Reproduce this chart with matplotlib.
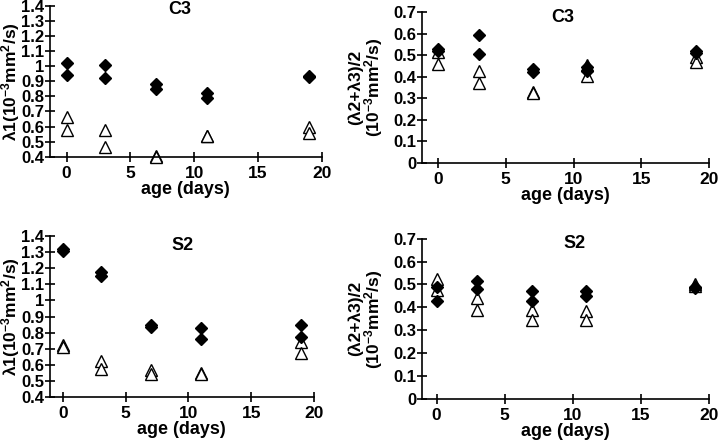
import numpy as np
import matplotlib
matplotlib.use("Agg")
import matplotlib.pyplot as plt

plt.rcParams['font.family'] = ['Liberation Sans', 'DejaVu Sans']
plt.rcParams['font.weight'] = 'bold'
plt.rcParams['mathtext.fontset'] = 'custom'
plt.rcParams['mathtext.rm'] = 'Liberation Sans:bold'
plt.rcParams['mathtext.bf'] = 'Liberation Sans:bold'
plt.rcParams['mathtext.default'] = 'bf'

# age (days) of each measurement, two animals per age
age = [0, 0, 3, 3, 7, 7, 11, 11, 19, 19]

# C3: lambda1
c3_l1_filled = [1.02, 0.94, 1.01, 0.92, 0.885, 0.85, 0.82, 0.79, 0.935, 0.925]
c3_l1_open = [0.665, 0.58, 0.575, 0.465, 0.405, 0.40, 0.54, 0.54, 0.595, 0.555]
# C3: (lambda2+lambda3)/2
c3_l23_filled = [0.53, 0.52, 0.595, 0.505, 0.435, 0.42, 0.445, 0.425, 0.52, 0.51]
c3_l23_open = [0.515, 0.46, 0.425, 0.37, 0.33, 0.325, 0.455, 0.405, 0.49, 0.47]
# S2: lambda1
s2_l1_filled = [1.32, 1.31, 1.175, 1.155, 0.845, 0.835, 0.83, 0.76, 0.85, 0.775]
s2_l1_open = [0.72, 0.71, 0.625, 0.57, 0.565, 0.54, 0.545, 0.54, 0.74, 0.675]
# S2: (lambda2+lambda3)/2
s2_l23_filled = [0.49, 0.43, 0.515, 0.48, 0.47, 0.43, 0.47, 0.45, 0.49, 0.485]
s2_l23_open = [0.525, 0.475, 0.44, 0.39, 0.39, 0.345, 0.385, 0.345, 0.50, 0.495]

fig = plt.figure(figsize=(7.2, 4.48), dpi=100)

l1_label = 'λ1(10$^{-3}$mm$^{2}$/s)'
l23_label = '(λ2+λ3)/2\n(10$^{-3}$mm$^{2}$/s)'

panels = [
    # rect, xlim, ylim, yticks, filled, open, ylabel, ylabel x, title, title pos
    ([0.069, 0.650, 0.378, 0.3373], (-1.33, 20), (0.4, 1.4), np.arange(0.4, 1.41, 0.1),
     c3_l1_filled, c3_l1_open, l1_label, -0.101, 'C3', (180, 10)),
    ([0.586, 0.6368, 0.399, 0.336], (-1.18, 20), (0, 0.7), np.arange(0, 0.71, 0.1),
     c3_l23_filled, c3_l23_open, l23_label, -0.128, 'C3', (563, 17)),
    ([0.069, 0.1145, 0.3671, 0.358], (-1.06, 20), (0.4, 1.4), np.arange(0.4, 1.41, 0.1),
     s2_l1_filled, s2_l1_open, l1_label, -0.104, 'S2', (183, 245)),
    ([0.5857, 0.1094, 0.3986, 0.3578], (-1.10, 20), (0, 0.7), np.arange(0, 0.71, 0.1),
     s2_l23_filled, s2_l23_open, l23_label, -0.128, 'S2', (575, 244)),
]

for rect, xlim, ylim, yticks, filled, opened, ylabel, ylx, title, tpos in panels:
    ax = fig.add_axes(rect)
    ax.plot(age, opened, linestyle='none', marker='^', ms=8.5, mfc='white',
            mec='black', mew=1.0, clip_on=False)
    ax.plot(age, filled, linestyle='none', marker='D', ms=6.5, color='black',
            clip_on=False)
    ax.set_xlim(*xlim)
    ax.set_ylim(*ylim)
    ax.set_xticks([0, 5, 10, 15, 20])
    ax.set_yticks(yticks)
    ax.set_yticklabels(['%g' % round(v, 1) for v in yticks])
    for s in ['top', 'right']:
        ax.spines[s].set_visible(False)
    for s in ['left', 'bottom']:
        ax.spines[s].set_linewidth(1.2)
    ax.tick_params(direction='inout', length=7, width=1.2, labelsize=12.5)
    ax.tick_params(axis='y', pad=0.5, labelsize=12)
    ax.tick_params(axis='x', pad=3)
    ax.set_xlabel('age (days)', fontsize=13, fontweight='bold', labelpad=0)
    ax.set_ylabel(ylabel, fontsize=12.5, fontweight='bold', linespacing=0.95)
    ax.yaxis.set_label_coords(ylx, 0.5)
    fig.text(tpos[0] / 720, 1 - tpos[1] / 448, title, fontsize=13,
             fontweight='bold', ha='center', va='center')

fig.savefig('out.png', dpi=100)
